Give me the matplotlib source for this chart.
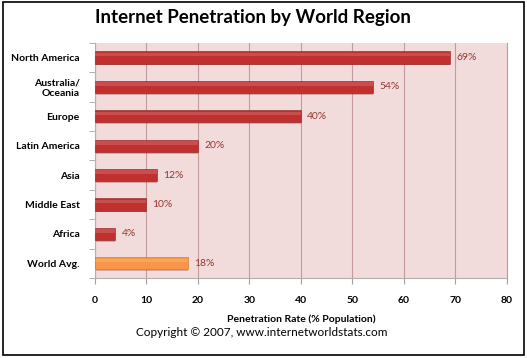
import numpy as np
import matplotlib.pyplot as plt
from matplotlib.patches import Rectangle

# dados
regioes = ['North America', 'Australia/\nOceania', 'Europe', 'Latin America',
           'Asia', 'Middle East', 'Africa', 'World Avg.']
taxas = [69, 54, 40, 20, 12, 10, 4, 18]
rotulos = ['69%', '54%', '40%', '20%', '12%', '10%', '4%', '18%']
xticks = [0, 10, 20, 30, 40, 50, 60, 70, 80]

plt.rcParams['font.family'] = ['Lato', 'DejaVu Sans']

fig = plt.figure(figsize=(5.27, 3.58), dpi=100)
ax = fig.add_axes([0.180, 0.2235, 0.782, 0.657])

ax.set_facecolor('#f2dcdb')
y = np.arange(len(regioes))
cores = ['#c0302e'] * (len(regioes) - 1) + ['#f79646']
bordas = ['#8a2020'] * (len(regioes) - 1) + ['#c9702a']

# sombra leve embaixo de cada barra
ax.barh(y + 0.06, taxas, height=0.42, color='#9c2a2a', alpha=0.3, zorder=2)
ax.barh(y, taxas, height=0.42, color=cores, edgecolor=bordas, linewidth=0.4, zorder=3)
# brilho na parte de cima
ax.barh(y - 0.1, taxas, height=0.12, color='white', alpha=0.15, zorder=4)

for yi, v, r in zip(y, taxas, rotulos):
    ax.text(v + 1.2, yi, r, va='center', ha='left', fontsize=7.5,
            color='#943634', zorder=5)

ax.set_xlim(0, 80)
ax.set_ylim(len(regioes) - 0.5, -0.5)
ax.set_xticks(xticks)
ax.set_xticklabels([str(t) for t in xticks], fontsize=7.5, fontweight='bold')
ax.set_yticks(y)
ax.set_yticklabels(regioes, fontsize=7.5, fontweight='bold')
ax.set_yticks(np.arange(-0.5, len(regioes)), minor=True)
ax.tick_params(axis='y', which='major', length=0, pad=11)
ax.tick_params(axis='y', which='minor', length=4, color='#a0a0a0')
ax.tick_params(axis='x', length=4, color='#a0a0a0', pad=9)
ax.grid(axis='x', color='#c49a9a', linewidth=0.8, zorder=1)
ax.set_axisbelow(True)
ax.spines['top'].set_visible(False)
ax.spines['left'].set_color('#b0b0b0')
ax.spines['bottom'].set_color('#b0b0b0')
ax.spines['right'].set_color('#c49a9a')

ax.set_xlabel('Penetration Rate (% Population)', fontsize=7.5, fontweight='bold',
              labelpad=7)

fig.text(0.48, 0.952, 'Internet Penetration by World Region', ha='center',
         va='center', fontsize=13.5, fontweight='bold')
fig.text(0.497, 0.07, 'Copyright \u00a9 2007, www.internetworldstats.com',
         ha='center', va='center', fontsize=8.5)

fig.patches.append(Rectangle((0.005, 0.008), 0.99, 0.987, transform=fig.transFigure,
                             fill=False, edgecolor='black', linewidth=1.2))

fig.savefig('out.png', dpi=100)
